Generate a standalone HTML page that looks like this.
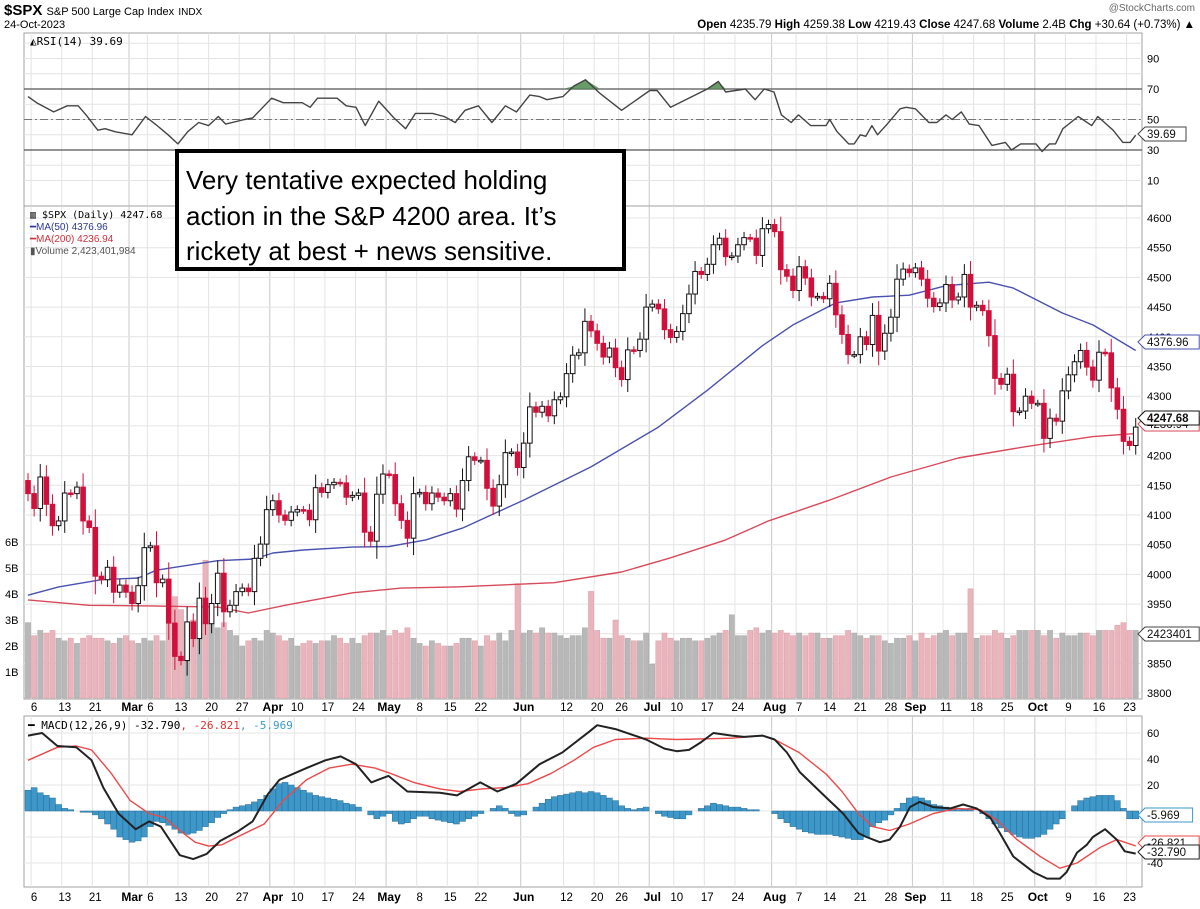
<!DOCTYPE html>
<html><head><meta charset="utf-8"><title>$SPX chart</title>
<style>
html,body{margin:0;padding:0;background:#fff;}
svg{display:block;font-family:"Liberation Sans",sans-serif;}
.mono{font-family:"DejaVu Sans Mono","Liberation Mono",monospace;}
</style></head>
<body>
<svg id="chart" width="1200" height="909" viewBox="0 0 1200 909" xmlns="http://www.w3.org/2000/svg">
  <rect x="0" y="0" width="1200" height="909" fill="#fff"/>
  <text x="4" y="15" font-size="15" font-weight="bold">$SPX <tspan font-size="11" font-weight="normal">S&amp;P 500 Large Cap Index</tspan> <tspan font-size="10" font-weight="normal">INDX</tspan></text>
  <text x="4" y="28" font-size="11">24-Oct-2023</text>
  <text x="1195" y="11" font-size="10" fill="#666" text-anchor="end">@StockCharts.com</text>
  <text x="1195" y="28" font-size="11.5" text-anchor="end"><tspan font-weight="bold">Open</tspan> 4235.79 <tspan font-weight="bold">High</tspan> 4259.38 <tspan font-weight="bold">Low</tspan> 4219.43 <tspan font-weight="bold">Close</tspan> 4247.68 <tspan font-weight="bold">Volume</tspan> 2.4B <tspan font-weight="bold">Chg</tspan> +30.64 (+0.73%) ▲</text>
  <g id="grid"></g>
  <g id="vol"></g>
  <g id="lines"></g>
  <g id="candles"></g>
  <g id="axes"></g>
  <g id="tags"></g>
  <text x="30" y="45" font-size="11" class="mono">◭RSI(14) 39.69</text>
  <text x="30" y="218" font-size="10" class="mono">▥ $SPX (Daily) 4247.68</text>
  <text x="30" y="230" font-size="10" fill="#2b3a9a">━MA(50) 4376.96</text>
  <text x="30" y="242" font-size="10" fill="#d0303a">━MA(200) 4236.94</text>
  <text x="30" y="254" font-size="10" fill="#555">▮Volume 2,423,401,984</text>
  <text x="28" y="729" font-size="11" class="mono">━ MACD(12,26,9) -32.790<tspan fill="#e03030">, -26.821</tspan><tspan fill="#3a9ad0">, -5.969</tspan></text>
  <g>
    <rect x="177" y="151" width="447" height="118" fill="#fff" stroke="#000" stroke-width="4"/>
    <text x="186" y="189" font-size="26">Very tentative expected holding</text>
    <text x="186" y="225" font-size="26">action in the S&amp;P 4200 area. It’s</text>
    <text x="186" y="260" font-size="26">rickety at best + news sensitive.</text>
  </g>
</svg>
<script>
const closes=[4136,
4111,4164,4118,4082,4090, 4137,4136,4147,4090,4079, 3997,3991,4012,3970, 3982,3970,3951,3981,4045,
4048,3986,3992,3918,3862, 3855,3920,3892,3960,3917, 3951,4002,3937,3948,3971, 3977,3971,4027,4051,4109,
4124,4100,4091,4105, 4109,4108,4092,4146,4138, 4151,4155,4154,4130,4133, 4137,4071,4056,4135,4169,
4168,4119,4091,4061,4136, 4138,4119,4137,4130,4124, 4136,4110,4158,4198,4192, 4192,4145,4115,4151,4205,
4206,4180,4221,4282, 4273,4283,4267,4294,4299, 4338,4369,4373,4426,4410, 4389,4366,4381,4348, 4328,4378,4377,4396,4450,
4455,4447,4412,4399, 4409,4439,4472,4510,4505, 4522,4555,4566,4535,4536, 4555,4567,4566,4537,4582,
4589,4577,4513,4502,4478, 4518,4499,4467,4468,4464, 4490,4437,4404,4370,4370, 4400,4387,4436,4376,4406,
4433,4497,4514,4508,4516, 4497,4465,4451,4457, 4488,4462,4467,4505,4450, 4453,4444,4402,4330,4320,
4337,4274,4275,4300,4288, 4288,4229,4263,4258,4309, 4336,4358,4377,4349,4327, 4374,4373,4314,4278,4224, 4217,4248];
const volumes=[2.9,
2.4,2.6,2.5,2.6,2.3, 2.2,2.3,2.1,2.3,2.4, 2.3,2.3,2.2,2.1, 2.3,2.4,2.2,2.1,2.3,
2.2,2.4,2.2,2.9,3.9, 3.4,2.9,3.0,2.9,5.3, 3.0,2.7,2.9,2.6,2.4, 2.0,2.2,2.3,2.2,2.6,
2.5,2.4,2.2,2.3, 2.0,2.1,2.2,2.1,2.2, 2.2,2.4,2.3,2.1,2.3, 2.1,2.4,2.5,2.5,2.6,
2.4,2.6,2.5,2.7,2.3, 2.1,2.0,2.2,2.1,2.0, 2.0,2.1,2.3,2.3,2.2, 2.0,2.4,2.2,2.5,2.2,
2.6,4.4,2.5,2.6, 2.5,2.7,2.5,2.5,2.4, 2.3,2.4,2.4,2.7,4.1, 2.6,2.3,2.3,3.0, 2.4,2.3,2.2,2.2,2.5,
1.3,2.2,2.5,2.3, 2.2,2.3,2.3,2.2,2.2, 2.3,2.4,2.5,2.6,3.2, 2.4,2.4,2.6,2.7,2.5,
2.6,2.5,2.6,2.5,2.4, 2.5,2.4,2.5,2.5,2.3, 2.3,2.4,2.4,2.6,2.5, 2.4,2.3,2.4,2.4,2.2,
2.1,2.3,2.3,2.4,2.2, 2.5,2.3,2.4,2.5, 2.6,2.4,2.5,2.5,4.2, 2.3,2.4,2.4,2.6,2.5,
2.3,2.4,2.6,2.6,2.6, 2.6,2.4,2.6,2.3,2.5, 2.4,2.4,2.5,2.5,2.4, 2.6,2.6,2.6,2.8,2.9, 2.6,2.6];
const ma50Idx=[0,5,12,18,21,24,31,37,40,45,53,59,65,71,81,92,103,111,120,125,132,138,144,150,157,161,169,174,181];
const ma50Val=[3965,3979,3991,3994,4007,4012,4023,4026,4036,4041,4046,4047,4058,4078,4125,4181,4248,4310,4385,4420,4457,4467,4470,4486,4492,4482,4440,4420,4377];
const ma200Idx=[0,10,20,31,36,42,53,61,70,86,97,105,114,121,131,141,152,163,174,181];
const ma200Val=[3957,3948,3947,3945,3935,3948,3969,3977,3979,3986,4004,4028,4058,4090,4125,4164,4196,4215,4232,4237];
const rsiIdx=[0,1.4,4.2,6.4,8.2,9.5,11.4,12.6,14.2,17,19.2,21.1,22.9,24.5,26.1,27.9,29.5,31.1,32.3,35.4,36.7,39.8,41.7,44.8,46.1,47.3,50.5,52,53.6,55.1,57.3,59.8,61.7,63.3,66.1,68,69.8,71.4,73.6,75.8,78,79.8,82,83.6,84.8,87.4,89.2,91.1,93.5,97,101.6,102.8,105,111,112.8,114,117.2,118.8,120.3,121.9,123.1,124.7,125.9,127.9,130.4,131,132.2,134.1,135,136,136.9,137.9,138.8,140.4,142.5,143.5,145,147.2,148.5,150,151,152.5,153.8,155.4,157.5,159.7,160.7,162.2,164.7,165.7,166.9,167.9,169.1,171.6,173.8,174.8,177.3,178.9,180.1,181];
const rsiVal=[65,61,55,59,59,53,43,44,42,40,52,46,40,34,42,48,46,52,47,50,51,64,61,61,58,64,64,59,58,46,62,51,44,54,54,52,48,56,59,48,59,55,66,65,63,65,72,76,67,56,69,69,58,70,75,68,70,63,70,68,53,48,53,46,46,50,42,34,34,40,39,46,40,47,57,58,57,48,48,53,50,55,47,46,33,35,30,34,34,29,34,34,44,52,46,52,43,35,35,39.69];
const macdIdx=[0,2.3,4.8,7.9,10.4,12.3,14.8,17.6,19.8,21.7,24.8,27,29.2,31.4,34.2,36.7,39.2,41.1,45.5,48.6,51.1,53.6,56.1,58.9,62,67.3,70.1,73.9,76.7,79.8,83.6,87.3,91.7,93,96,101,104,106,108,110,112,115,117,120,122,124,126.1,130.5,133.2,135.7,137,139.2,140.8,142.5,144.1,145.7,147.9,150.7,152.8,155,157.2,158.8,161,164.3,166.5,168.6,169.7,171.4,173,174,176,177.9,179.2,181];
const macdVal=[58,60,50,49,39,18,-2,-14,-8,-12,-34,-37,-33,-23,-16,-8,13,24,33,39,42,36,22,27,15,14,12,22,15,21,36,45,61,66,63,55,48,46,47,53,60,58,57,58,55,45,30,10,-2,-17,-20,-24,-22,-12,3,7,3,2,5,2,-5,-17,-35,-47,-52,-52,-47,-32,-26,-20,-14,-22,-31,-32.79];
const sigIdx=[0,4.8,7.9,10.4,13.6,16.7,19.8,22.3,24.8,27.3,29.5,31.7,34.2,38.6,41.7,45.5,49.2,52.9,56.7,59.2,63,67.3,70.5,74.2,78,81.7,85.5,89.2,92.4,96,101,106,115,120,122,126,130.5,133,135.7,138,140.8,144,147.9,151.8,155.6,158.3,161.6,165.4,168.6,171.4,175.2,177.9,181];
const sigVal=[39,49,50,47,29,8,-2,-5,-15,-24,-27,-26,-20,-10,8,24,33,36,33,29,22,17,15,17,18,21,29,39,49,55,56,55,56,58,55,45,28,15,-2,-12,-15,-10,-2,2,1,-7,-22,-35,-44,-40,-28,-22,-26.82];
const histVal=[16,18,14,12,10, 5,2,1,0,-1,-1, -3,-6,-10,-14, -20,-22,-24,-23,-20,
-12,-8,-9,-11,-14, -17,-18,-17,-15,-12, -9,-5,-2,1,3, 4,5,7,9,12,
17,21,22,20, 18,16,14,12,11, 10,9,8,6,5, 3,0,-3,-6,-4,
-2,-8,-10,-9,-6, -4,-4,-6,-7,-8, -9,-10,-8,-6,-4, -2,0,2,4,2,
-2,-4,-3,0, 3,6,9,11,12, 13,14,15,14,15, 14,12,10,8, 4,2,1,2,3,
0,-2,-4,-5, -6,-6,-3,0,2, 4,6,5,4,3, 3,2,1,1,0,
0,-2,-6,-9,-12, -14,-16,-17,-18,-18, -18,-19,-20,-21,-22, -22,-20,-12,-9,-7,
-3,2,6,10,11, 10,8,5,4, 3,2,1,1,2, 0,-2,-6,-10,-13,
-16,-18,-20,-21,-21, -20,-18,-14,-10,-6, 0,4,8,10,11, 12,12,12,8,2, -6,-6];
const xTickIdx=[1,6,11,17,20,25,30,35,40,44,49,54,59,64,69,74,81,88,93,97,102,106,111,116,122,126,131,136,141,145,150,155,160,165,170,175,180];
const xTickLbl=["6","13","21","Mar","6","13","20","27","Apr","10","17","24","May","8","15","22","Jun","12","20","26","Jul","10","17","24","Aug","7","14","21","28","Sep","11","18","25","Oct","9","16","23"];
const priceTicks=[3800,3850,3900,3950,4000,4050,4100,4150,4200,4250,4300,4350,4400,4450,4500,4550,4600];
const priceTickLbl=["3800","3850","","3950","4000","4050","4100","4150","4200","","4300","4350","4400","4450","4500","4550","4600"];
const volTicks=[1,2,3,4,5,6];
const volTickLbl=["1B","2B","3B","4B","5B","6B"];
const rsiTicks=[10,30,50,70,90];
const macdTicks=[-40,-20,0,20,40,60];
const macdTickLbl=["-40","","0","20","40","60"];

const NS="http://www.w3.org/2000/svg";
const L=24,R=1142;
const P={rsiT:33,rsiB:206,prT:206,prB:699,mT:716,mB:887};
const xOf=i=>28+i*6.12;
const py=p=>218+(4600-p)*0.594;
const vy=v=>698-v*26;
const ry=v=>89+(70-v)*1.525;
const my=v=>811-v*1.3;
function el(tag,parent){const e=document.createElementNS(NS,tag);document.getElementById(parent).appendChild(e);return e;}
function setA(e,o){for(const k in o)e.setAttribute(k,o[k]);}

// panel frames & grids
[[P.rsiT,P.rsiB],[P.prT,P.prB],[P.mT,P.mB]].forEach(([t,b],k)=>{
  const r=el('rect','grid');
  setA(r,{x:L,y:t,width:R-L,height:b-t,fill:'#fff',stroke:'#a0a0a0'});
  
  
  xTickIdx.forEach((idx,j)=>{
    const g=el('line','grid');
    const month=isNaN(+xTickLbl[j]);
    setA(g,{x1:xOf(idx)-3,x2:xOf(idx)-3,y1:t,y2:b,stroke:month?'#c8c8c8':'#e4e4e4'});
    
    
  });
});
for(let v=10;v<=100;v+=10){const g=el('line','grid');setA(g,{x1:L,x2:R,y1:ry(v),y2:ry(v),stroke:'#e4e4e4'});
  
  }
priceTicks.forEach(p=>{const g=el('line','grid');setA(g,{x1:L,x2:R,y1:py(p),y2:py(p),stroke:'#e4e4e4'});
  
  });
macdTicks.forEach(v=>{const g=el('line','grid');setA(g,{x1:L,x2:R,y1:my(v),y2:my(v),stroke:'#e4e4e4'});
  
  });
[70,30].forEach(v=>{const g=el('line','grid');setA(g,{x1:L,x2:R,y1:ry(v),y2:ry(v),stroke:'#555','stroke-width':1.2});
  
  });
{const g=el('line','grid');setA(g,{x1:L,x2:R,y1:ry(50),y2:ry(50),stroke:'#777','stroke-dasharray':'8,3,2,3'});
  
  }

// volume
volumes.forEach((v,i)=>{
  const up=i===0||closes[i]>=closes[i-1];
  const b=el('rect','vol');
  setA(b,{x:xOf(i)-2.6,y:vy(v),width:5.2,height:vy(0)-vy(v),fill:up?'#b8b8b8':'#e9b4bc',stroke:up?'#a8a8a8':'#dca0aa','stroke-width':0.5});
  
  
});

// lines
function poly(idx,vals,fy,color,w,name){
  const p=el('polyline','lines');
  setA(p,{points:idx.map((d,k)=>xOf(d).toFixed(1)+','+fy(vals[k]).toFixed(1)).join(' '),fill:'none',stroke:color,'stroke-width':w,'stroke-linejoin':'round'});
  
  
}
// RSI overbought fill
{const pts=[];rsiIdx.forEach((d,k)=>{pts.push(xOf(d).toFixed(1)+','+Math.min(ry(rsiVal[k]),ry(70)).toFixed(1));});
 const f=el('polygon','lines');
 setA(f,{points:xOf(rsiIdx[0])+','+ry(70)+' '+pts.join(' ')+' '+xOf(rsiIdx[rsiIdx.length-1])+','+ry(70),fill:'#4f8a4f',opacity:0.85});
 
 }
poly(rsiIdx,rsiVal,ry,'#444',1.4,'rsi-line');
poly(ma50Idx,ma50Val,py,'#4a52b0',1.4,'ma50-line');
poly(ma200Idx,ma200Val,py,'#d84a5a',1.4,'ma200-line');
histVal.forEach((h,i)=>{
  const b=el('rect','lines');
  setA(b,{x:xOf(i)-3,y:Math.min(my(h),my(0)),width:6,height:Math.abs(my(h)-my(0)),fill:'#3d97c9',stroke:'#2a6e96','stroke-width':0.5});
  
  
});
poly(sigIdx,sigVal,my,'#ea4a4a',1.4,'macd-signal-line');
poly(macdIdx,macdVal,my,'#222',2,'macd-line');

// candles
closes.forEach((c,i)=>{
  const o=i===0?4158:closes[i-1];
  const up=c>=o;
  const col=up?'#111':'#d0103a';
  const hi=Math.max(o,c)+Math.abs(c-o)*0.3+6, lo=Math.min(o,c)-Math.abs(c-o)*0.3-6;
  const x=xOf(i);
  const w=el('line','candles');
  setA(w,{x1:x,x2:x,y1:py(hi),y2:py(lo),stroke:col,'stroke-width':1});
  
  
  const b=el('rect','candles');
  const top=py(Math.max(o,c)),bh=Math.max(1.5,py(Math.min(o,c))-top);
  setA(b,{x:x-2.3,y:top,width:4.6,height:bh,fill:up?'#fff':col,stroke:col,'stroke-width':1});
  
  
});

// axis labels
function txt(parent,x,y,s,opts){const t=el('text',parent);setA(t,Object.assign({x:x,y:y,'font-size':11},opts||{}));t.textContent=s;return t;}
rsiTicks.forEach(v=>{const t=txt('axes',1147,ry(v)+4,String(v));
  
  });
priceTicks.forEach((p,k)=>{if(!priceTickLbl[k])return;const t=txt('axes',1147,py(p)+4,priceTickLbl[k]);
  
  });
volTicks.forEach((v,k)=>{const t=txt('axes',5,vy(v)+4,volTickLbl[k]);
  
  });
macdTicks.forEach((v,k)=>{if(!macdTickLbl[k])return;const t=txt('axes',1147,my(v)+4,macdTickLbl[k]);
  
  });
[711,901].forEach(y=>{
  xTickIdx.forEach((idx,j)=>{
    const month=isNaN(+xTickLbl[j]);
    const t=txt('axes',xOf(idx),y,xTickLbl[j],{'text-anchor':'middle','font-weight':month?'bold':'normal','font-size':month?12:11.5});
    
    
  });
});

// value tags
function tag(y,s,color,bold,name){
  const g=el('g','tags');
  
  
  const w=s.length*6.6+8;
  const p=document.createElementNS(NS,'polygon');g.appendChild(p);
  setA(p,{points:`1138,${y} 1145,${y-7} ${1145+w},${y-7} ${1145+w},${y+7} 1145,${y+7}`,fill:'#fff',stroke:color,'stroke-width':1});
  const t=document.createElementNS(NS,'text');g.appendChild(t);
  setA(t,{x:1147,y:y+4,'font-size':11.5,'font-weight':bold?'bold':'normal',fill:'#111'});
  t.textContent=s;
}
tag(134,'39.69','#444',false,'rsi-value-tag');
tag(342,'4376.96','#4a52b0',false,'ma50-value-tag');
tag(424,'4236.94','#d84a5a',false,'ma200-value-tag');
tag(418,'4247.68','#111',true,'close-value-tag');
tag(634,'2423401','#444',false,'volume-value-tag');
tag(815,'-5.969','#3d97c9',false,'histogram-value-tag');
tag(843,'-26.821','#ea4a4a',false,'signal-value-tag');
tag(852,'-32.790','#222',false,'macd-value-tag');
</script>
</body></html>
